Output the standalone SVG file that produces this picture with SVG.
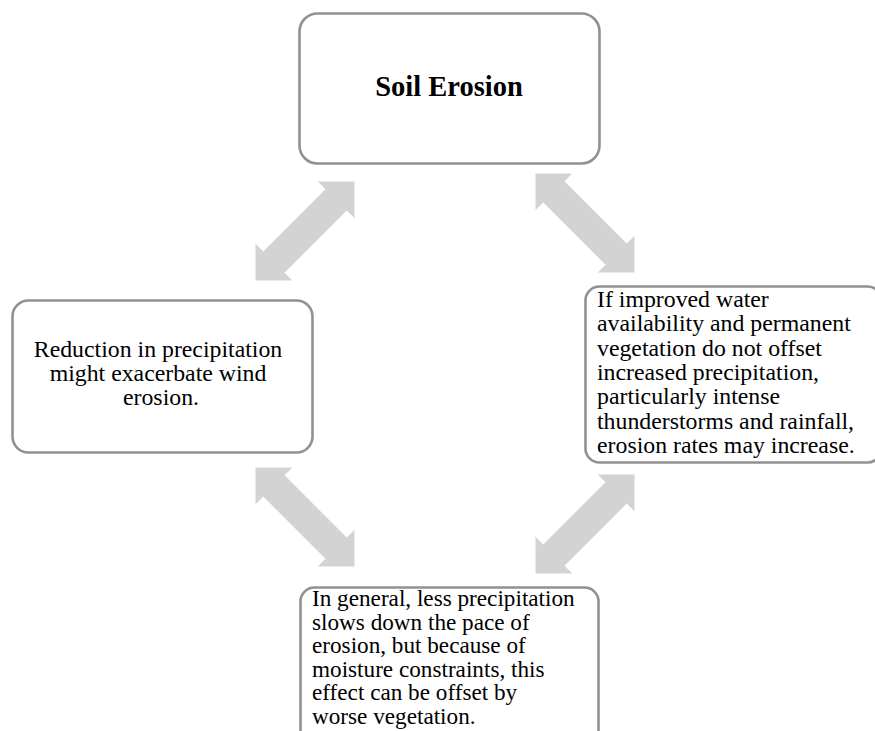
<svg xmlns="http://www.w3.org/2000/svg" width="875" height="731" viewBox="0 0 875 731">
<defs>
<style>
.box{fill:#ffffff;stroke:#919191;stroke-width:2.6}
.t{font-family:"Liberation Serif","Times New Roman",serif;fill:#000}
.arr{fill:#d3d3d3}
</style>
<path id="dbl" d="M -70,0 L -44,-26 L -44,-15 L 44,-15 L 44,-26 L 70,0 L 44,26 L 44,15 L -44,15 L -44,26 Z"/>
</defs>
<rect width="875" height="731" fill="#ffffff"/>
<g id="connectors" class="arr">
<use href="#dbl" transform="translate(305,231) rotate(-45)"/>
<use href="#dbl" transform="translate(585,223) rotate(45)"/>
<use href="#dbl" transform="translate(305,517) rotate(45)"/>
<use href="#dbl" transform="translate(585,524) rotate(-45)"/>
</g>
<g id="node-soil-erosion">
<rect class="box" x="299.5" y="13.5" width="300" height="150" rx="18"/>
<text class="t" font-family="'Liberation Serif', 'Times New Roman', serif" x="449" y="95.5" font-size="28.5" font-weight="bold" text-anchor="middle">Soil Erosion</text>
</g>
<g id="node-reduction">
<rect class="box" x="12.5" y="300.5" width="300" height="152" rx="16"/>
<text class="t" font-family="'Liberation Serif', 'Times New Roman', serif" font-size="23.8" text-anchor="middle">
<tspan x="161" y="357">Reduction in precipitation</tspan>
<tspan x="161" y="381">might exacerbate wind</tspan>
<tspan x="161" y="405">erosion.</tspan>
</text>
</g>
<g id="node-improved">
<rect class="box" x="585.5" y="286.5" width="296" height="176" rx="14"/>
<text class="t" font-family="'Liberation Serif', 'Times New Roman', serif" font-size="23.8">
<tspan x="597" y="307">If improved water</tspan>
<tspan x="597" y="331.3">availability and permanent</tspan>
<tspan x="597" y="355.6">vegetation do not offset</tspan>
<tspan x="597" y="380">increased precipitation,</tspan>
<tspan x="597" y="404.2">particularly intense</tspan>
<tspan x="597" y="428.5">thunderstorms and rainfall,</tspan>
<tspan x="597" y="453">erosion rates may increase.</tspan>
</text>
</g>
<g id="node-general">
<rect class="box" x="300.5" y="587.5" width="298" height="160" rx="14"/>
<text class="t" font-family="'Liberation Serif', 'Times New Roman', serif" font-size="23.2">
<tspan x="312" y="606">In general, less precipitation</tspan>
<tspan x="312" y="629.5">slows down the pace of</tspan>
<tspan x="312" y="653">erosion, but because of</tspan>
<tspan x="312" y="676.5">moisture constraints, this</tspan>
<tspan x="312" y="700">effect can be offset by</tspan>
<tspan x="312" y="723.5">worse vegetation.</tspan>
</text>
</g>
</svg>
